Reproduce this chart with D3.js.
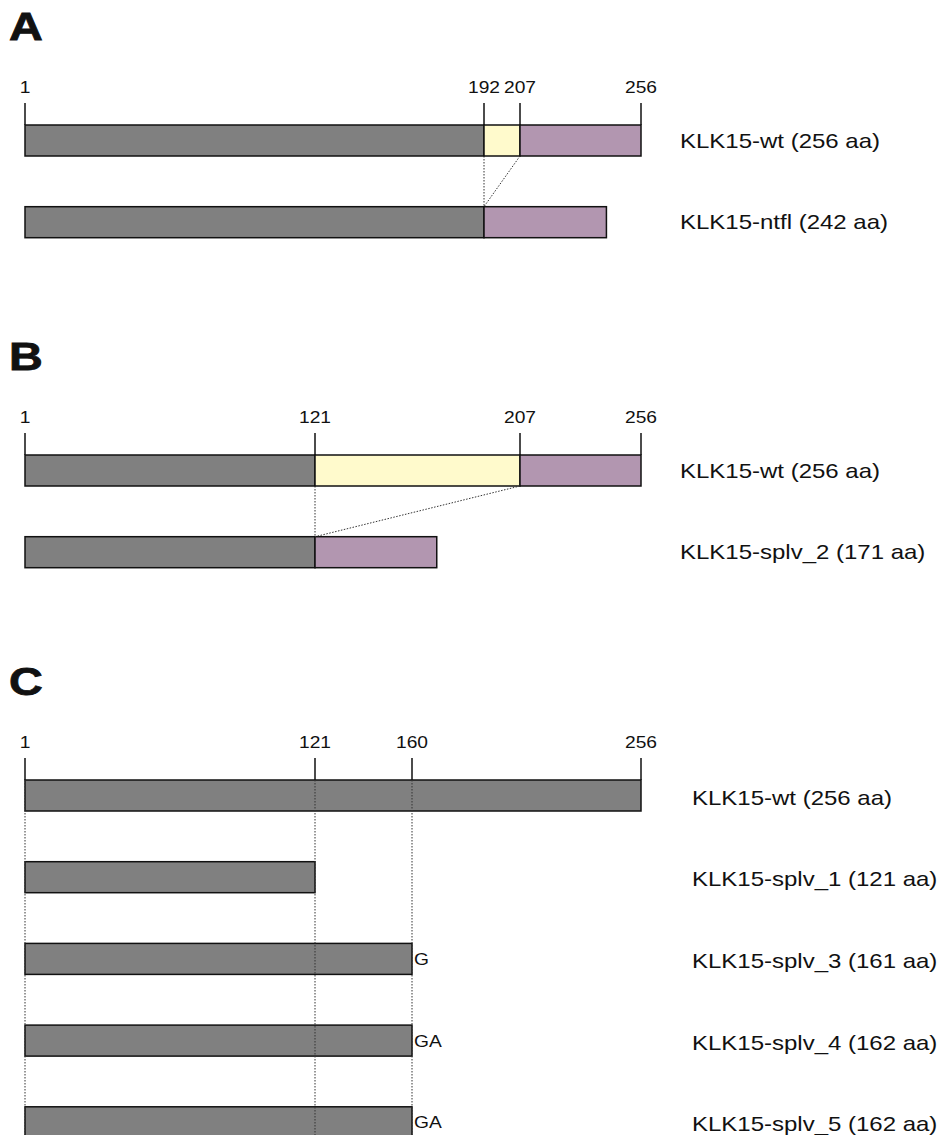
<!DOCTYPE html>
<html>
<head>
<meta charset="utf-8">
<script src="https://cdn.jsdelivr.net/npm/d3@7"></script>
<style>
  body { margin: 0; background: #fff; }
  text { font-family: "Liberation Sans", Arial, sans-serif; fill: #111; }
</style>
</head>
<body>
<div id="chart"></div>
<script>
// Panel A: N-terminal fragment loss
const ticksA = [1, 192, 207, 256];
const namesA = ["KLK15-wt (256 aa)", "KLK15-ntfl (242 aa)"];
const segmentsA = [
    [[1, 192, "shared"], [192, 207, "skipped"], [207, 256, "downstream"]],
    [[1, 192, "shared"], [192, 242, "downstream"]]
];
const linksA = [[192, 192], [207, 192]];

// Panel B: splice variant 2
const ticksB = [1, 121, 207, 256];
const namesB = ["KLK15-wt (256 aa)", "KLK15-splv_2 (171 aa)"];
const segmentsB = [
    [[1, 121, "shared"], [121, 207, "skipped"], [207, 256, "downstream"]],
    [[1, 121, "shared"], [121, 171, "downstream"]]
];
const linksB = [[121, 121], [207, 121]];

// Panel C: truncated splice variants
const ticksC = [1, 121, 160, 256];
const namesC = ["KLK15-wt (256 aa)", "KLK15-splv_1 (121 aa)", "KLK15-splv_3 (161 aa)",
                "KLK15-splv_4 (162 aa)", "KLK15-splv_5 (162 aa)"];
const segmentsC = [
    [[1, 256, "shared"]],
    [[1, 121, "shared"]],
    [[1, 160, "shared"]],
    [[1, 160, "shared"]],
    [[1, 160, "shared"]]
];
const suffixC = ["", "", "G", "GA", "GA"];
const guidesC = [1, 121, 160];

// residue positions as they sit on the drawn axis (the figure is not to exact scale)
const axisResidues = [1, 121, 160, 192, 207, 256];

const width = 940;
const height = 1135;
const barH = 31;
const rowStep = 81.7;
const stretch = 1.2;   // the figure text is drawn wide

const svg = d3.select("#chart").append("svg")
    .attr("width", width)
    .attr("height", height);

const x = d3.scaleLinear()
    .domain(axisResidues)
    .range([25, 315, 412, 484, 520, 641]);
const color = d3.scaleOrdinal()
    .domain(["shared", "skipped", "downstream"])
    .range(["#808080", "#fffacc", "#b296b0"]);

function stretchedText(g, px, py, str, size, opts = {}) {
    return g.append("text")
        .attr("transform", `translate(${px},${py}) scale(${stretch},1)`)
        .attr("font-size", size)
        .attr("font-weight", opts.bold ? "bold" : "normal")
        .attr("text-anchor", opts.anchor || "start")
        .text(str);
}

function drawPanel(letter, top, ticks, names, segments, opts) {
    const g = svg.append("g");
    const rowY = i => top + i * rowStep;

    // panel letter
    stretchedText(g, 9, top - 85, letter, 39, { bold: true })
        .attr("stroke", "#111").attr("stroke-width", 0.8);

    // tick labels and tick marks above first bar
    ticks.forEach(t => {
        stretchedText(g, x(t), top - 32, t, 16, { anchor: "middle" });
        g.append("line")
            .attr("x1", x(t)).attr("x2", x(t))
            .attr("y1", top - 22).attr("y2", top)
            .attr("stroke", "#111")
            .attr("stroke-width", 1.5);
    });

    // bars
    segments.forEach((row, i) => {
        g.selectAll(null)
            .data(row)
            .enter()
            .append("rect")
            .attr("x", d => x(d[0]))
            .attr("y", rowY(i))
            .attr("width", d => x(d[1]) - x(d[0]))
            .attr("height", barH)
            .attr("fill", d => color(d[2]))
            .attr("stroke", "#111")
            .attr("stroke-width", 1.5);
    });

    // dotted links between wt and variant
    if (opts.links) {
        g.selectAll(null)
            .data(opts.links)
            .enter()
            .append("line")
            .attr("x1", d => x(d[0]))
            .attr("y1", rowY(0) + barH)
            .attr("x2", d => x(d[1]))
            .attr("y2", rowY(1))
            .attr("stroke", "#333")
            .attr("stroke-width", 1)
            .attr("stroke-dasharray", "1.5,1.5");
    }

    // dotted guides running down through all bars
    if (opts.guides) {
        g.selectAll(null)
            .data(opts.guides)
            .enter()
            .append("line")
            .attr("x1", d => x(d)).attr("x2", d => x(d))
            .attr("y1", top)
            .attr("y2", height)
            .attr("stroke", "#333")
            .attr("stroke-width", 1)
            .attr("stroke-dasharray", "1.5,1.5");
    }

    // extra residues after the bar end
    if (opts.suffix) {
        opts.suffix.forEach((s, i) => {
            if (!s) return;
            const last = segments[i][segments[i].length - 1];
            stretchedText(g, x(last[1]) + 2, rowY(i) + barH / 2 + 6, s, 16);
        });
    }

    // isoform names on the right
    names.forEach((n, i) => {
        stretchedText(g, opts.labelX, rowY(i) + barH / 2 + 7 + (opts.labelDy || 0), n, 20);
    });
}

drawPanel("A", 125, ticksA, namesA, segmentsA, { links: linksA, labelX: 680 });
drawPanel("B", 455, ticksB, namesB, segmentsB, { links: linksB, labelX: 680 });
drawPanel("C", 780, ticksC, namesC, segmentsC, { guides: guidesC, suffix: suffixC, labelX: 692, labelDy: 2 });
</script>
</body>
</html>
